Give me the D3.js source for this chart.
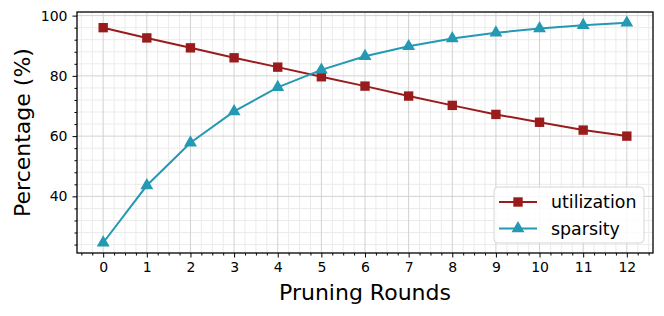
<!DOCTYPE html>
<html>
<head>
  <meta charset='utf-8'>
  <title>Pruning Rounds</title>
  <style>
    body { margin: 0; background: #fff; }
    text { font-family: 'DejaVu Sans', sans-serif; fill: #000; }
  </style>
</head>
<body>
<div id="chart"></div>
<script src="https://cdnjs.cloudflare.com/ajax/libs/d3/7.8.5/d3.min.js"></script>
<script>

var rounds = [0, 1, 2, 3, 4, 5, 6, 7, 8, 9, 10, 11, 12];
var utilization = [96.0, 92.6, 89.3, 86.0, 82.9, 79.7, 76.6, 73.3, 70.2, 67.2, 64.6, 62.0, 60.0];
var sparsity = [24.6, 43.6, 57.8, 68.2, 76.2, 82.0, 86.5, 89.8, 92.4, 94.3, 95.7, 96.8, 97.6];
var yTicks = [40, 60, 80, 100];

var width = 664, height = 316;
var m = {left: 77, right: 11, top: 12, bottom: 63};

var svg = d3.select('#chart').append('svg')
  .attr('width', width)
  .attr('height', height);

var x = d3.scaleLinear().domain([-0.6, 12.6]).range([m.left, width - m.right]);
var y = d3.scaleLinear().domain([21.2, 101.2]).range([height - m.bottom, m.top]);

var pw = width - m.left - m.right, ph = height - m.top - m.bottom;

// minor grid
var xMinor = d3.range(-0.5, 12.6, 0.25).filter(function(d) { return d % 1 !== 0; });
var yMinor = d3.range(24, 101, 4).filter(function(d) { return d % 20 !== 0; });

var grid = svg.append('g');
grid.selectAll('.vm').data(xMinor).enter().append('line')
  .attr('x1', x).attr('x2', x).attr('y1', m.top).attr('y2', m.top + ph)
  .attr('stroke', '#ebebeb').attr('stroke-width', 1);
grid.selectAll('.hm').data(yMinor).enter().append('line')
  .attr('y1', y).attr('y2', y).attr('x1', m.left).attr('x2', m.left + pw)
  .attr('stroke', '#ebebeb').attr('stroke-width', 1);
grid.selectAll('.vM').data(rounds).enter().append('line')
  .attr('x1', x).attr('x2', x).attr('y1', m.top).attr('y2', m.top + ph)
  .attr('stroke', '#d2d2d2').attr('stroke-width', 1);
grid.selectAll('.hM').data(yTicks).enter().append('line')
  .attr('y1', y).attr('y2', y).attr('x1', m.left).attr('x2', m.left + pw)
  .attr('stroke', '#d2d2d2').attr('stroke-width', 1);

// axes
svg.append('g')
  .attr('transform', 'translate(0,' + (m.top + ph) + ')')
  .call(d3.axisBottom(x).tickValues(rounds).tickSize(4.5).tickPadding(5).tickFormat(d3.format('d')));
svg.append('g')
  .attr('transform', 'translate(0,' + (m.top + ph) + ')')
  .call(d3.axisBottom(x).tickValues(xMinor).tickSize(2.5).tickFormat(''));
svg.append('g')
  .attr('transform', 'translate(' + m.left + ',0)')
  .call(d3.axisLeft(y).tickValues(yTicks).tickSize(4.5).tickPadding(5));
svg.append('g')
  .attr('transform', 'translate(' + m.left + ',0)')
  .call(d3.axisLeft(y).tickValues(yMinor).tickSize(2.5).tickFormat(''));

svg.selectAll('.domain').remove();
svg.selectAll('.tick line').attr('stroke', '#000').attr('stroke-width', 1);
svg.selectAll('.tick text').attr('font-size', 14).attr('font-family', 'DejaVu Sans').attr('fill', '#000');

svg.append('rect')
  .attr('x', m.left).attr('y', m.top).attr('width', pw).attr('height', ph)
  .attr('fill', 'none').attr('stroke', '#000').attr('stroke-width', 1.3);

var uColor = '#9a1b1b', sColor = '#2499b3';

var line = d3.line()
  .x(function(d, i) { return x(rounds[i]); })
  .y(function(d) { return y(d); });

svg.append('path').datum(utilization)
  .attr('d', line).attr('fill', 'none').attr('stroke', uColor).attr('stroke-width', 2);
svg.append('path').datum(sparsity)
  .attr('d', line).attr('fill', 'none').attr('stroke', sColor).attr('stroke-width', 2);

var sq = d3.symbol().type(d3.symbolSquare).size(88);
var tri = d3.symbol().type(d3.symbolTriangle).size(72);

svg.selectAll('.u').data(utilization).enter().append('path')
  .attr('d', sq)
  .attr('transform', function(d, i) { return 'translate(' + x(rounds[i]) + ',' + y(d) + ')'; })
  .attr('fill', uColor);
svg.selectAll('.s').data(sparsity).enter().append('path')
  .attr('d', tri)
  .attr('transform', function(d, i) { return 'translate(' + x(rounds[i]) + ',' + y(d) + ')'; })
  .attr('fill', sColor);

// labels
svg.append('text')
  .attr('x', m.left + pw / 2).attr('y', 300)
  .attr('text-anchor', 'middle').attr('font-size', 22)
  .text('Pruning Rounds');
svg.append('text')
  .attr('transform', 'translate(30,' + (m.top + ph / 2) + ') rotate(-90)')
  .attr('text-anchor', 'middle').attr('font-size', 22)
  .text('Percentage (%)');

// legend
var lg = svg.append('g').attr('transform', 'translate(494,187)');
lg.append('rect')
  .attr('width', 150).attr('height', 56).attr('rx', 4)
  .attr('fill', 'rgba(255,255,255,0.85)').attr('stroke', '#d6d6d6').attr('stroke-width', 1);
var items = [
  {name: 'utilization', color: uColor, sym: sq},
  {name: 'sparsity', color: sColor, sym: tri}
];
items.forEach(function(it, i) {
  var yy = 15 + i * 26.5;
  lg.append('line').attr('x1', 5).attr('x2', 43).attr('y1', yy).attr('y2', yy)
    .attr('stroke', it.color).attr('stroke-width', 2);
  lg.append('path').attr('d', it.sym).attr('transform', 'translate(24,' + yy + ')').attr('fill', it.color);
  lg.append('text').attr('x', 57).attr('y', yy + 6).attr('font-size', 17.4).text(it.name);
});

</script>
</body>
</html>
